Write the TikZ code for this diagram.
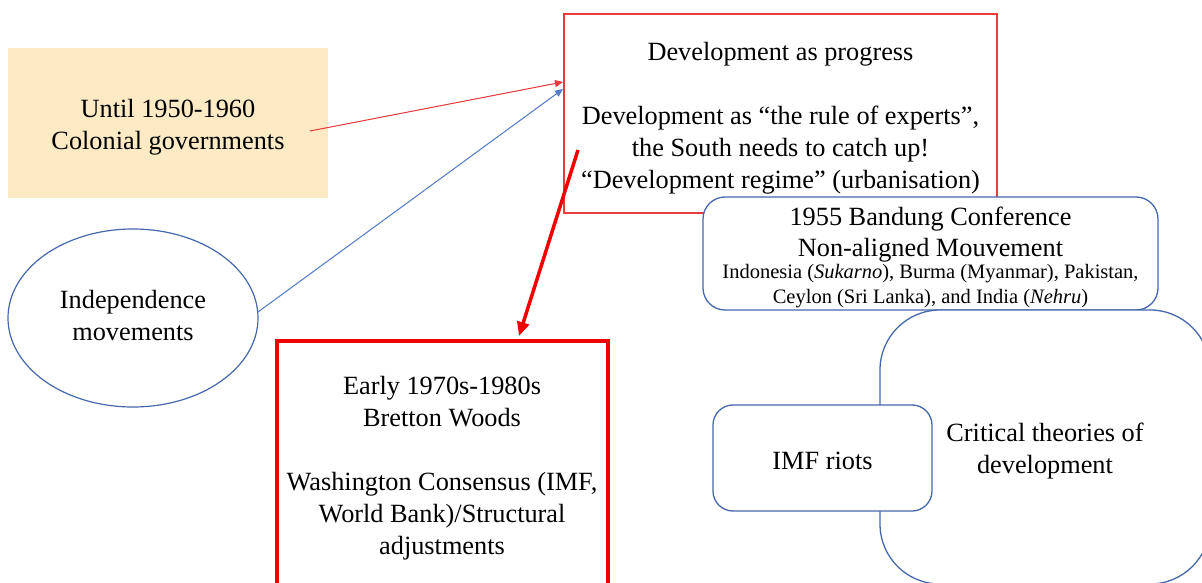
\documentclass[tikz,border=0pt]{standalone}
\usepackage{fontspec}
\setmainfont{Liberation Serif}
\usetikzlibrary{shapes.geometric,arrows.meta,calc}
\definecolor{yelfill}{RGB}{251,234,196}
\definecolor{thinred}{RGB}{232,60,60}
\definecolor{boxblue}{RGB}{70,104,172}
\definecolor{arrblue}{RGB}{84,124,200}
\definecolor{thickred}{RGB}{240,0,0}
\newcommand{\bigsz}{\fontsize{26.3}{32}\selectfont}
\newcommand{\smallsz}{\fontsize{20.5}{25}\selectfont}
\begin{document}
\begin{tikzpicture}[x=1pt,y=-1pt,
  big/.style={font=\bigsz, align=center, inner sep=0pt},
  rbox/.style={draw=boxblue, line width=1.3pt, fill=white, rounded corners=#1, inner sep=0pt},
  thinarrow/.style={line width=1pt, -{Triangle[length=8pt,width=7pt]}}
]
\clip (0,0) rectangle (1202,583);
\fill[white] (0,0) rectangle (1202,583);

% yellow box
\node[fill=yelfill, minimum width=320pt, minimum height=150pt, inner sep=0pt] (yel) at (168,123) {};
\node[big] (yeltext) at (168,127.5) {Until 1950-1960\\Colonial governments};

% ellipse
\node[ellipse, draw=boxblue, line width=1.2pt, minimum width=250pt, minimum height=178pt, inner sep=0pt] (ind) at (133,318) {};
\node[big] (indtext) at (133,316) {Independence\\movements};

% development box
\node[draw=thinred, line width=1.2pt, minimum width=433pt, minimum height=199pt, inner sep=0pt] (dev) at (780.5,113.5) {};
\node[big] (devtext) at (780.5,118)
  {Development as progress\\[32pt]Development as “the rule of experts”,\\the South needs to catch up!\\“Development regime” (urbanisation)};

% Bandung box
\node[rbox=22pt, minimum width=455pt, minimum height=113pt] (band) at (930.5,253.5) {};
\node[big] (bandtext) at (930.5,259)
  {1955 Bandung Conference\\[-1pt]Non-aligned Mouvement\\[-2pt]{\smallsz\begin{tabular}{@{}c@{}}Indonesia (\textit{Sukarno}), Burma (Myanmar), Pakistan,\\Ceylon (Sri Lanka), and India (\textit{Nehru})\end{tabular}}};

% bottom red box
\node[draw=thickred, line width=4pt, minimum width=331pt, minimum height=250pt, inner sep=0pt] (bw) at (442,466) {};
\node[big] (bwtext) at (442,468.5)
  {Early 1970s-1980s\\Bretton Woods\\[32pt]Washington Consensus (IMF,\\World Bank)/Structural\\adjustments};

% critical theories
\node[rbox=60pt, minimum width=330pt, minimum height=274pt] (crit) at (1045,447) {};
\node[big] (crittext) at (1045,451.5) {Critical theories of\\development};

% IMF riots
\node[rbox=20pt, minimum width=219pt, minimum height=106pt] (imf) at (822.5,458) {};
\node[big] (imftext) at (822.5,461) {IMF riots};

% connectors
\coordinate (s1) at (310,131);
\coordinate (e1) at (563,82);
\coordinate (s2) at (258,312);
\coordinate (e2) at (563,89);
\coordinate (s3) at (578,150);
\coordinate (e3) at (519,336);
\draw[thinarrow, draw=thinred, fill=thinred] (s1) -- (e1);
\draw[thinarrow, draw=arrblue, fill=arrblue] (s2) -- (e2);
\draw[thickred, line width=3.5pt, -{Triangle[length=14pt,width=12pt]}] (s3) -- (e3);
\end{tikzpicture}
\end{document}
